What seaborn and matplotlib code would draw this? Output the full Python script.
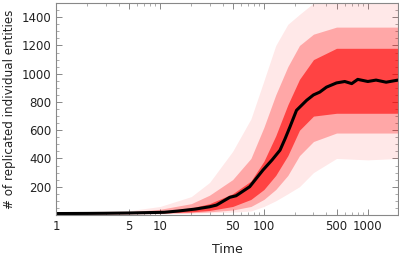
import numpy as np
import pandas as pd
import seaborn as sns
import matplotlib
matplotlib.use("Agg")
import matplotlib.pyplot as plt
from matplotlib.ticker import FixedLocator, FixedFormatter, NullFormatter, MultipleLocator

# mean trajectory (black)
time = [1, 2, 3, 5, 8, 11, 15, 22, 30, 35, 47, 54, 73, 98, 120, 143, 160, 178, 206, 258,
        300, 345, 400, 500, 600, 700, 800, 1000, 1200, 1500, 1950]
mean = [10, 11, 12, 14, 17, 19, 28, 42, 58, 70, 125, 136, 200, 318, 390, 459, 540, 623, 741, 812,
        850, 870, 905, 935, 945, 930, 960, 945, 955, 940, 955]

# spread of the individual runs (red), read as envelopes
band_t = [1, 5, 10, 20, 30, 50, 75, 100, 130, 170, 220, 300, 500, 1000, 1950]
outer_lo = [3, 5, 8, 12, 15, 20, 28, 60, 100, 150, 200, 300, 400, 390, 400]
outer_hi = [20, 30, 60, 130, 230, 450, 680, 950, 1200, 1350, 1420, 1500, 1500, 1500, 1500]
mid_lo = [6, 8, 11, 16, 22, 35, 60, 110, 180, 280, 420, 520, 580, 580, 580]
mid_hi = [14, 22, 40, 80, 140, 250, 400, 620, 850, 1050, 1200, 1280, 1330, 1330, 1330]
core_lo = [8, 10, 14, 22, 32, 60, 110, 180, 280, 420, 600, 700, 720, 720, 720]
core_hi = [12, 17, 26, 50, 80, 150, 240, 380, 560, 780, 960, 1100, 1180, 1180, 1180]

sns.set_style("ticks")
plt.rcParams['font.family'] = ['DejaVu Sans']

fig = plt.figure(figsize=(3.99, 2.59), dpi=100)
ax = fig.add_axes([0.1404, 0.170, 0.857, 0.818])

ax.fill_between(band_t, outer_lo, outer_hi, color="#ff0000", alpha=0.09, lw=0)
ax.fill_between(band_t, mid_lo, mid_hi, color="#ff0000", alpha=0.28, lw=0)
ax.fill_between(band_t, core_lo, core_hi, color="#ff0000", alpha=0.6, lw=0)

df = pd.DataFrame({"Time": time, "mean": mean})
sns.lineplot(data=df, x="Time", y="mean", color="black", lw=2.2, ax=ax)

ax.set_xscale("log")
ax.set_xlim(1, 1950)
ax.set_ylim(0, 1500)
ax.xaxis.set_major_locator(FixedLocator([1, 5, 10, 50, 100, 500, 1000]))
ax.xaxis.set_major_formatter(FixedFormatter(["1", "5", "10", "50", "100", "500", "1000"]))
minor = [m * 10 ** e for e in range(0, 4) for m in range(2, 10)]
ax.xaxis.set_minor_locator(FixedLocator(minor))
ax.xaxis.set_minor_formatter(NullFormatter())
ax.yaxis.set_major_locator(FixedLocator([200, 400, 600, 800, 1000, 1200, 1400]))
ax.yaxis.set_minor_locator(MultipleLocator(50))

for s in ax.spines.values():
    s.set_color("#888888")
    s.set_linewidth(0.8)
ax.tick_params(which="both", direction="in", top=True, right=True, color="#888888",
               labelsize=8.5, labelcolor="#222222")
ax.tick_params(which="major", length=4, width=0.7)
ax.tick_params(which="minor", length=2, width=0.5)

ax.set_xlabel("Time", fontsize=9, color="#222222", labelpad=7)
ax.set_ylabel("# of replicated individual entities", fontsize=8.6, color="#222222", labelpad=4)

fig.savefig("out.png", dpi=100)
